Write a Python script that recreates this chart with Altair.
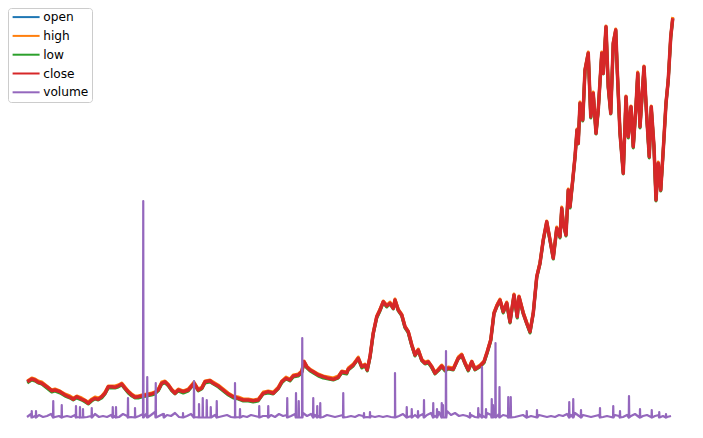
import altair as alt
import pandas as pd

names = ["open", "high", "low", "close", "volume"]
colors = ["#1f77b4", "#ff7f0e", "#2ca02c", "#d62728", "#9467bd"]

# trading-day index
days = [1,19,32,45,59,79,99,112,132,152,
        172,185,199,219,232,245,259,272,285,299,
        312,325,339,352,365,379,392,405,419,432,
        445,459,479,499,512,525,539,552,565,579,
        592,605,625,645,668,685,699,712,732,745,
        765,785,805,825,845,865,885,905,925,945,
        965,985,1005,1019,1036,1052,1065,1085,1099,1108,
        1119,1132,1145,1165,1185,1205,1225,1245,1259,1279,
        1285,1305,1325,1339,1352,1361,1372,1385,1399,1412,
        1425,1439,1452,1465,1472,1485,1499,1512,1525,1539,
        1552,1565,1579,1592,1605,1619,1632,1645,1659,1672,
        1685,1705,1725,1739,1752,1765,1779,1792,1812,1828,
        1841,1855,1868,1881,1892,1905,1919,1932,1948,1961,
        1968,1985,1999,2012,2025,2039,2052,2065,2079,2092,
        2105,2119,2132,2139,2145,2156,2165,2172,2183,2192,
        2200,2205,2212,2223,2232,2245,2255,2265,2276,2285,
        2299,2305,2316,2325,2335,2345,2355,2361,2372,2385,
        2396,2405,2416,2425,2435,2443,2452,2468,2479,2489,
        2497,2508,2516,2525,2535,2545,2556,2565,2575,2583]

close = [37.3,40,39,36.7,35.7,32.3,28.3,29,27.3,24,
         21.7,19.7,22.3,19.7,18.3,15.7,19,20.7,19.7,22.3,
         25.7,32.3,32.3,31.7,33,35,30.7,27.3,24,21.7,
         22.3,23,24,25,26.3,29,35.7,37.3,34,29,
         25.7,29,27.3,29,35.7,29,30.7,37.3,38.3,35.7,
         33,29,25,22.3,20.7,19,19,18.3,19,25.7,
         27.3,25.7,30.7,37.3,40.7,39,43,44,47.3,57.3,
         52.3,49,47.3,44,42.3,40.7,39.7,41.7,47.3,46.3,
         49.7,54,60.7,52.3,54,49,62.3,85.7,102.3,109,
         117.3,113,115.7,110.7,119,109,104,92.3,87.3,74,
         64,69,59,55.7,57.3,52.3,45.7,49,53,49,
         50.7,49.7,60.7,64,55.7,49,57.3,49.7,53,57.3,
         67.3,79,105.7,114,119,107.3,116,97,124,102.3,
         122.3,105.7,95.7,87.3,105.7,142.3,155.7,179,197.3,179,
         160.7,190.7,182.3,210.7,195.7,184,229,212.3,239,262,
         289,275.7,315.7,299,349,365.7,302.3,325.7,285.7,309,
         365.7,345.7,392.3,332.3,305.7,375.7,389,349,285.7,245.7,
         322.3,282.3,312.3,272.3,309,345.7,292.3,352.3,302.3,262.3,
         312.3,272.3,219,255.7,229,269,315.7,339,382.3,400.7]

high = [38,41,40,38,37,33,29,30,28,25,
        23,21,23,21,19,17,20,22,21,23,
        27,33,33,33,34,36,32,28,25,23,
        23,24,25,26,27,30,37,38,35,30,
        27,30,28,30,37,30,32,38,39,37,
        34,30,26,23,22,20,20,19,20,27,
        28,27,32,38,42,40,44,45,48,58,
        53,50,48,45,43,42,41,43,48,47,
        51,55,62,53,55,50,63,87,103,110,
        118,114,117,112,120,110,105,93,88,75,
        65,70,60,57,58,53,47,50,54,50,
        52,51,62,65,57,50,58,51,54,58,
        68,80,107,115,120,108,117,98,125,103,
        123,107,97,88,107,143,157,180,198,180,
        162,192,183,212,197,185,230,213,240,263,
        290,277,317,300,350,367,303,327,287,310,
        367,347,393,333,307,377,390,350,287,247,
        323,283,313,273,310,347,293,353,303,263,
        313,273,220,257,230,270,317,340,383,402]

low = [36,39,38,36,35,31,27,28,26,23,
       21,19,21,19,17,15,18,20,19,21,
       25,31,31,31,32,34,30,26,23,21,
       21,22,23,24,25,28,35,36,33,28,
       25,28,26,28,35,28,30,36,37,35,
       32,28,24,21,20,18,18,17,18,25,
       26,25,30,36,40,38,42,43,46,56,
       51,48,46,43,41,40,39,41,46,45,
       49,53,60,51,53,48,61,85,101,108,
       116,112,115,110,118,108,103,91,86,73,
       63,68,58,55,56,51,45,48,52,48,
       50,49,60,63,55,48,56,49,52,56,
       66,78,105,113,118,106,115,96,123,101,
       121,105,95,86,105,141,155,178,196,178,
       160,190,181,210,195,183,228,211,238,261,
       288,275,315,298,348,365,301,325,285,308,
       365,345,391,331,305,375,388,348,285,245,
       321,281,311,271,308,345,291,351,301,261,
       311,271,218,255,228,268,315,338,381,400]

open_ = [37,40,39,37,36,32,28,29,27,24,
         22,20,22,20,18,16,19,21,20,22,
         26,32,32,32,33,35,31,27,24,22,
         22,23,24,25,26,29,36,37,34,29,
         26,29,27,29,36,29,31,37,38,36,
         33,29,25,22,21,19,19,18,19,26,
         27,26,31,37,41,39,43,44,47,57,
         52,49,47,44,42,41,40,42,47,46,
         50,54,61,52,54,49,62,86,102,109,
         117,113,116,111,119,109,104,92,87,74,
         64,69,59,56,57,52,46,49,53,49,
         51,50,61,64,56,49,57,50,53,57,
         67,79,106,114,119,107,116,97,124,102,
         122,106,96,87,106,142,156,179,197,179,
         161,191,182,211,196,184,229,212,239,262,
         289,276,316,299,349,366,302,326,286,309,
         366,346,392,332,306,376,389,349,286,246,
         322,282,312,272,309,346,292,352,302,262,
         312,272,219,256,229,269,316,339,382,401]

# volume: background level sampled every 16 days, plus one-day spikes
vol_base_days = list(range(0, 2585, 16))
vol_base = [2,5,3,4,2,3,5,2,3,2,
            3,2,4,2,3,2,3,5,2,3,
            2,4,3,2,5,3,2,4,3,5,
            6,4,7,3,5,4,3,6,2,4,
            3,5,2,4,3,6,3,4,2,3,
            4,2,3,2,3,2,4,3,2,3,
            3,4,2,5,3,4,3,5,4,6,
            3,5,4,3,2,4,3,2,3,4,
            2,3,2,4,3,2,3,2,3,2,
            3,2,4,3,5,2,3,4,3,5,
            4,6,3,7,5,8,4,6,3,4,
            3,4,2,5,3,6,4,7,5,4,
            3,4,2,3,4,2,3,2,4,3,
            2,3,2,4,3,5,4,6,3,4,
            3,2,3,4,2,3,2,4,3,2,
            4,3,5,2,3,4,2,3,4,3,
            2,3]
spike_days = [19,36,105,139,196,212,224,259,343,356,
              404,432,465,481,515,548,624,668,688,703,
              719,735,759,832,852,929,965,1041,1076,1087,
              1101,1145,1161,1173,1265,1348,1372,1472,1519,1539,
              1564,1588,1625,1640,1659,1664,1676,1772,1805,1820,
              1836,1859,1864,1874,1890,1925,1935,1999,2040,2169,
              2185,2216,2292,2345,2372,2408,2452,2499,2529,2556]
spike_vol = [8,8,18,14,13,12,10,11,12,12,
             21,11,218,42,36,5,6,38,15,21,
             19,12,18,36,10,13,13,21,26,18,
             81,21,13,16,26,6,7,46,12,10,
             8,19,16,10,16,14,68,6,11,52,
             10,20,14,76,32,22,22,8,9,17,
             20,9,11,13,8,23,10,9,7,5]
spike_floor = 1.5

rows = []
for name, vals in zip(names[:4], [open_, high, low, close]):
    for d, v in zip(days, vals):
        rows.append({"day": d, "value": v, "series": name})
vol_pts = list(zip(vol_base_days, vol_base))
for d, h in zip(spike_days, spike_vol):
    vol_pts += [(d - 1, spike_floor), (d, h), (d + 1, spike_floor)]
vol_pts.sort(key=lambda p: p[0])
for d, v in vol_pts:
    rows.append({"day": d, "value": v, "series": "volume"})
df = pd.DataFrame(rows)

color = alt.Color(
    "series:N",
    scale=alt.Scale(domain=names, range=colors),
    legend=alt.Legend(
        title=None, orient="none", legendX=-19, legendY=-9,
        symbolType="M-3,0H3", symbolSize=81, symbolStrokeWidth=2,
        symbolOffset=9, symbolFillColor="transparent",
        labelFont="DejaVu Sans", labelFontSize=12.2, labelColor="#000000",
        labelOffset=11, padding=3, rowPadding=5.8,
        strokeColor="#cccccc", fillColor="rgba(255,255,255,0.8)", cornerRadius=3,
    ),
)

base = alt.Chart(df).encode(
    x=alt.X("day:Q", scale=alt.Scale(domain=[0, 2584], nice=False, zero=False), axis=None),
    y=alt.Y("value:Q", scale=alt.Scale(domain=[0, 402], nice=False), axis=None),
    color=color,
)

widths = {"open": 3, "high": 3, "low": 3, "close": 3.5, "volume": 2.2}
layers = []
for name in names:
    layers.append(
        base.transform_filter(alt.datum.series == name)
        .mark_line(strokeWidth=widths[name], strokeJoin="round")
    )

chart = alt.layer(*layers).properties(
    width=646, height=402,
    autosize="none",
    padding={"left": 19, "top": 9, "right": 14, "bottom": 8},
).configure_view(stroke=None)

chart.save("out.html", embed_options={"renderer": "svg", "actions": False})
